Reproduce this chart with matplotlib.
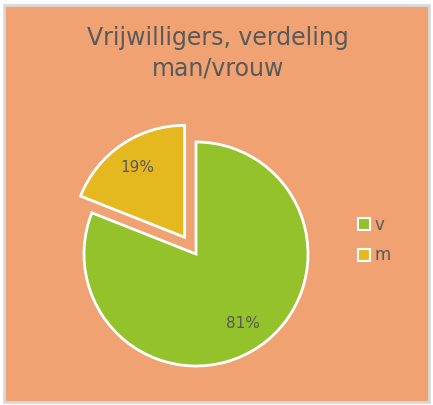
import matplotlib
matplotlib.use('Agg')
import matplotlib.pyplot as plt
from matplotlib.lines import Line2D
from matplotlib.patches import Rectangle

# data
labels = ['v', 'm']
values = [81, 19]
colors = ['#93C22B', '#E6B820']
explode_frac = [0, 0.18]

title = 'Vrijwilligers, verdeling\nman/vrouw'
bg = '#F0A273'
text_col = '#595959'

W, H = 433, 405
R = 112
fig = plt.figure(figsize=(W / 100, H / 100), dpi=100, facecolor='white')

# chart area with grey border
fig.patches.append(Rectangle((4 / W, 3 / H), 425 / W, 397 / H, transform=fig.transFigure,
                             facecolor=bg, edgecolor='#D9D9D9', lw=2, zorder=-10))

# axes in pixel units, y up
ax = fig.add_axes([0, 0, 1, 1])
ax.set_facecolor('none')

# pie explode offset is in data units, so scale by radius
wedges, texts, autotexts = ax.pie(
    values, colors=colors, explode=[e * R for e in explode_frac],
    startangle=90, counterclock=False,
    center=(196, H - 254), radius=R,
    autopct='%d%%', pctdistance=0.75,
    wedgeprops=dict(edgecolor='white', linewidth=2),
    textprops=dict(color=text_col, fontsize=11, family='DejaVu Sans'))

ax.set_xlim(0, W)
ax.set_ylim(0, H)
ax.set_aspect('auto')
ax.axis('off')

fig.text(218 / W, 1 - 53 / H, title, ha='center', va='center', fontsize=17,
         color=text_col, linespacing=1.35)

handles = [Line2D([], [], ls='', marker='s', markersize=8, markerfacecolor=c,
                  markeredgecolor='white', markeredgewidth=1.5) for c in colors]
fig.legend(handles, labels, loc='upper left', bbox_to_anchor=(341 / W, 1 - 201 / H),
           frameon=False, fontsize=12, labelcolor=text_col, handlelength=1.0,
           handletextpad=0.1, labelspacing=0.75)

fig.savefig('out.png', dpi=100, facecolor='white')
